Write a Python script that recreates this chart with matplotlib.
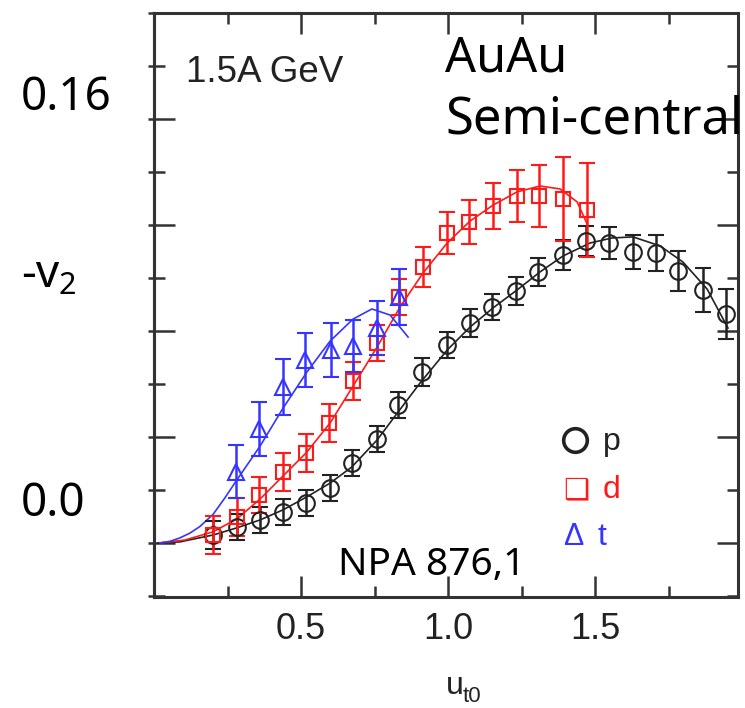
import matplotlib
matplotlib.use("Agg")
import matplotlib.pyplot as plt
from matplotlib.ticker import MultipleLocator

# --- measured -v2 vs u_t0 (proton, deuteron, triton) ---
p_x = [0.201, 0.282, 0.361, 0.439, 0.517, 0.599, 0.673, 0.759, 0.830, 0.912, 0.997, 1.075,
       1.150, 1.231, 1.306, 1.391, 1.469, 1.548, 1.629, 1.707, 1.782, 1.867, 1.946]
p_y = [0.0030, 0.0060, 0.0087, 0.0117, 0.0151, 0.0208, 0.0302, 0.0392, 0.0521, 0.0645, 0.0747, 0.0830,
       0.0891, 0.0951, 0.1023, 0.1087, 0.1140, 0.1132, 0.1098, 0.1094, 0.1026, 0.0955, 0.0864]
p_err = [0.0053, 0.0049, 0.0049, 0.0049, 0.0049, 0.0049, 0.0049, 0.0049, 0.0049, 0.0053, 0.0049, 0.0053,
         0.0049, 0.0053, 0.0053, 0.0057, 0.0057, 0.0060, 0.0064, 0.0068, 0.0075, 0.0083, 0.0094]

d_x = [0.201, 0.282, 0.357, 0.439, 0.517, 0.595, 0.677, 0.759, 0.833, 0.915, 0.997, 1.071,
       1.153, 1.235, 1.310, 1.391, 1.473]
d_y = [0.0030, 0.0098, 0.0181, 0.0268, 0.0340, 0.0453, 0.0611, 0.0755, 0.0928, 0.1042, 0.1170, 0.1211,
       0.1272, 0.1309, 0.1309, 0.1298, 0.1257]
d_err = [0.0072, 0.0072, 0.0068, 0.0072, 0.0072, 0.0072, 0.0072, 0.0068, 0.0068, 0.0075, 0.0079, 0.0083,
         0.0087, 0.0098, 0.0117, 0.0158, 0.0177]

t_x = [0.279, 0.357, 0.439, 0.514, 0.602, 0.677, 0.759, 0.833]
t_y = [0.0268, 0.0430, 0.0589, 0.0691, 0.0728, 0.0743, 0.0811, 0.0928]
t_err = [0.0100, 0.0102, 0.0106, 0.0102, 0.0102, 0.0098, 0.0102, 0.0106]

# --- fit curves ---
p_fit_x = [0.014, 0.088, 0.201, 0.282, 0.361, 0.439, 0.520, 0.599, 0.673, 0.759, 0.830, 0.905, 0.997,
           1.075, 1.153, 1.235, 1.313, 1.391, 1.483, 1.558, 1.629, 1.721, 1.799, 1.881, 1.952]
p_fit_y = [0.0, 0.0004, 0.0030, 0.0057, 0.0087, 0.0125, 0.0174, 0.0226, 0.0287, 0.0389, 0.0494, 0.0604, 0.0728,
           0.0815, 0.0887, 0.0955, 0.1023, 0.1083, 0.1132, 0.1151, 0.1155, 0.1121, 0.1060, 0.0958, 0.0811]

d_fit_x = [0.020, 0.105, 0.201, 0.282, 0.361, 0.439, 0.520, 0.599, 0.677, 0.759, 0.837, 0.915, 0.997,
           1.075, 1.153, 1.235, 1.313, 1.381, 1.439, 1.476]
d_fit_y = [0.0, 0.0011, 0.0042, 0.0091, 0.0166, 0.0253, 0.0343, 0.0453, 0.0592, 0.0740, 0.0891, 0.1019, 0.1132,
           0.1215, 0.1275, 0.1325, 0.1347, 0.1336, 0.1287, 0.1196]

t_fit_x = [0.020, 0.054, 0.088, 0.122, 0.156, 0.201, 0.241, 0.282, 0.361, 0.439, 0.520, 0.599, 0.677,
           0.741, 0.803, 0.864]
t_fit_y = [0.0, 0.0006, 0.0019, 0.0037, 0.0062, 0.0108, 0.0170, 0.0238, 0.0366, 0.0509, 0.0645, 0.0762, 0.0845,
           0.0883, 0.0860, 0.0777]

x_ticks = [0.5, 1.0, 1.5]
x_tick_labels = ["0.5", "1.0", "1.5"]

BLACK = "#222222"
RED = "#ff1a1a"
BLUE = "#3535ff"
W, H = 745, 708


def px(x, y):
    # pixel position -> figure fraction
    return x / W, 1 - y / H


fig = plt.figure(figsize=(W / 100, H / 100), dpi=100)
ax = fig.add_axes([154 / W, 1 - 597 / H, (738 - 154) / W, (597 - 13) / H])

# fit curves
ax.plot(p_fit_x, p_fit_y, color=BLACK, lw=1.2, zorder=2)
ax.plot(d_fit_x, d_fit_y, color=RED, lw=1.2, zorder=2)
ax.plot(t_fit_x, t_fit_y, color=BLUE, lw=1.2, zorder=2)

# data points with error bars
common = dict(ls="none", elinewidth=1.8, capsize=6, capthick=1.8, mfc="none", mew=1.5, zorder=3)
ax.errorbar(p_x, p_y, yerr=p_err, fmt="o", ms=12, color=BLACK, **common)
ax.errorbar(d_x, d_y, yerr=d_err, fmt="s", ms=10.5, color=RED, **common)
ax.errorbar(t_x, t_y, yerr=t_err, fmt="^", ms=11.5, color=BLUE, **common)

ax.set_xlim(0, 1.986)
ax.set_ylim(-0.0204, 0.2)

ax.set_xticks(x_ticks)
ax.set_xticklabels(x_tick_labels, fontfamily="Liberation Sans", fontsize=26, color="#222222")
ax.xaxis.set_minor_locator(MultipleLocator(0.25))
ax.yaxis.set_major_locator(MultipleLocator(0.04))
ax.yaxis.set_minor_locator(MultipleLocator(0.02))
ax.set_yticklabels([])

ax.tick_params(which="both", direction="in", top=True, right=True, width=1.8, color="#333333")
ax.tick_params(which="major", length=15)
ax.tick_params(which="minor", length=8)
ax.tick_params(axis="x", which="major", pad=11)

for s in ax.spines.values():
    s.set_linewidth(2.2)
    s.set_color("#333333")

# short outward stubs on the left axis
sec = ax.secondary_yaxis("left")
sec.yaxis.set_major_locator(MultipleLocator(0.04))
sec.yaxis.set_minor_locator(MultipleLocator(0.02))
sec.tick_params(which="both", direction="out", length=4.3, width=1.8, color="#333333", labelleft=False)
sec.spines["left"].set_linewidth(2.2)
sec.spines["left"].set_color("#333333")

# axis label
fig.text(*px(446, 694), "u", fontfamily="Liberation Sans", fontsize=23, color="#222222", va="baseline")
fig.text(*px(463, 702), "t0", fontfamily="Liberation Sans", fontsize=16, color="#222222", va="baseline")

# panel annotations
fig.text(*px(186, 82), "1.5A GeV", fontfamily="Liberation Sans", fontsize=26.5, color="#222222", va="baseline")
fig.text(*px(445, 72), "AuAu", fontfamily="Noto Sans", fontsize=35, va="baseline")
fig.text(*px(445, 133), "Semi-central", fontfamily="Noto Sans", fontsize=36.5, va="baseline")
fig.text(*px(338, 575), "NPA 876,1", fontfamily="Noto Sans", fontsize=28, va="baseline")

# y-axis annotations
fig.text(*px(21, 110), "0.16", fontfamily="Noto Sans", fontsize=33, va="baseline")
fig.text(*px(21, 516), "0.0", fontfamily="Noto Sans", fontsize=33, va="baseline")
fig.text(*px(21, 287), "-v", fontfamily="Noto Sans", fontsize=33, va="baseline")
fig.text(*px(58, 294), "2", fontfamily="Noto Sans", fontsize=22, va="baseline")

# key
ax.plot([(575 - 154) / 294], [(543 - 440) / 2650], "o", ms=17, mfc="none", mew=2.6, color=BLACK, zorder=4)
fig.text(*px(603, 450), "p", fontfamily="Liberation Sans", fontsize=23, color=BLACK, va="baseline")
fig.text(*px(563, 498), "\u2751", fontfamily="DejaVu Sans", fontsize=21, color=RED, va="baseline")
fig.text(*px(603, 498), "d", fontfamily="Liberation Sans", fontsize=23, color=RED, va="baseline")
fig.text(*px(563, 545), "\u0394", fontfamily="Liberation Sans", fontsize=22, color=BLUE, va="baseline")
fig.text(*px(597, 545), "t", fontfamily="Liberation Sans", fontsize=23, color=BLUE, va="baseline")

fig.savefig("out.png", dpi=100)
